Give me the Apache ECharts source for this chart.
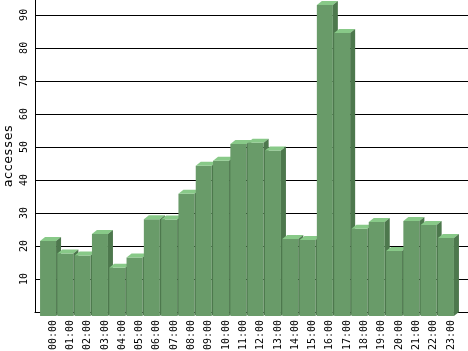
<!DOCTYPE html>
<html>
<head>
<meta charset="utf-8">
<script src="https://cdn.jsdelivr.net/npm/echarts@6/dist/echarts.min.js"></script>
<style>
html,body{margin:0;padding:0;background:#fff;}
#chart{width:468px;height:351px;}
</style>
</head>
<body>
<div id="chart"></div>
<script>
const hours = ['00:00','01:00','02:00','03:00','04:00','05:00','06:00','07:00','08:00','09:00','10:00','11:00','12:00','13:00','14:00','15:00','16:00','17:00','18:00','19:00','20:00','21:00','22:00','23:00'];
const accesses = [22.7, 18.9, 18.3, 24.8, 14.6, 17.7, 29.3, 29.2, 37.0, 45.5, 47.0, 52.1, 52.5, 50.1, 23.3, 23.0, 94.2, 85.7, 26.4, 28.5, 19.7, 28.8, 27.6, 23.6];
const yTicks = [10, 20, 30, 40, 50, 60, 70, 80, 90];
const yMax = 94.5;
const yTitle = 'accesses';

const FONT = 'DejaVu Sans Mono';
const DX = 5, DY = 4;
const FRONT = '#699b69', TOP = '#88c988', SIDE = '#4d784d';

const chart = echarts.init(document.getElementById('chart'), null, {renderer: 'canvas'});
chart.setOption({
  backgroundColor: '#fff',
  animation: false,
  grid: [
    {left: 35, right: 0, top: 0, bottom: 39, containLabel: false, outerBoundsMode: 'none'},
    {left: 44.4, width: 415.2, top: 0, bottom: 39, containLabel: false, outerBoundsMode: 'none'}
  ],
  xAxis: [
    {type: 'value', gridIndex: 0, min: 0, max: 1,
     axisLine: {show: true, onZero: false, lineStyle: {color: '#000', width: 1}},
     axisTick: {show: false}, axisLabel: {show: false}, splitLine: {show: false}},
    {type: 'category', gridIndex: 1, data: hours, boundaryGap: true,
     axisLine: {show: false}, axisTick: {show: false}, splitLine: {show: false},
     axisLabel: {rotate: 90, margin: 8, interval: 0, fontFamily: FONT, fontSize: 10, color: '#000'}}
  ],
  yAxis: [
    {type: 'value', gridIndex: 0, min: 0, max: yMax, interval: 10,
     axisLine: {show: true, lineStyle: {color: '#000', width: 1}},
     axisTick: {show: false},
     splitLine: {show: true, showMinLine: false, showMaxLine: false, lineStyle: {color: '#000', width: 1}},
     axisLabel: {rotate: 90, margin: 6, fontFamily: FONT, fontSize: 10, color: '#000',
       showMinLabel: false, showMaxLabel: false,
       formatter: v => (yTicks.indexOf(v) >= 0 ? String(v) : '')},
     name: yTitle, nameLocation: 'middle', nameRotate: 90, nameGap: 20, nameMoveOverlap: false,
     nameTextStyle: {fontFamily: FONT, fontSize: 13, color: '#000'}},
    {type: 'value', gridIndex: 1, min: 0, max: yMax, show: false}
  ],
  series: [{
    type: 'custom',
    xAxisIndex: 1, yAxisIndex: 1,
    data: accesses.map((v, i) => [i, v]),
    renderItem: function (params, api) {
      const c = api.coord([api.value(0), api.value(1)]);
      const b = api.coord([api.value(0), 0]);
      const bw = api.size([1, 0])[0] * 0.925;
      const x1 = c[0] - bw / 2, x2 = c[0] + bw / 2;
      return {
        type: 'group',
        children: [
          {type: 'rect', shape: {x: x1 - DX, y: c[1] + DY, width: bw, height: b[1] - c[1]},
           style: {fill: FRONT}},
          {type: 'polygon', shape: {points: [[x1 - DX, c[1] + DY], [x1, c[1]], [x2, c[1]], [x2 - DX, c[1] + DY]]},
           style: {fill: TOP}},
          {type: 'polygon', shape: {points: [[x2 - DX, c[1] + DY], [x2, c[1]], [x2, b[1]], [x2 - DX, b[1] + DY]]},
           style: {fill: SIDE}}
        ]
      };
    }
  }]
});
</script>
</body>
</html>
